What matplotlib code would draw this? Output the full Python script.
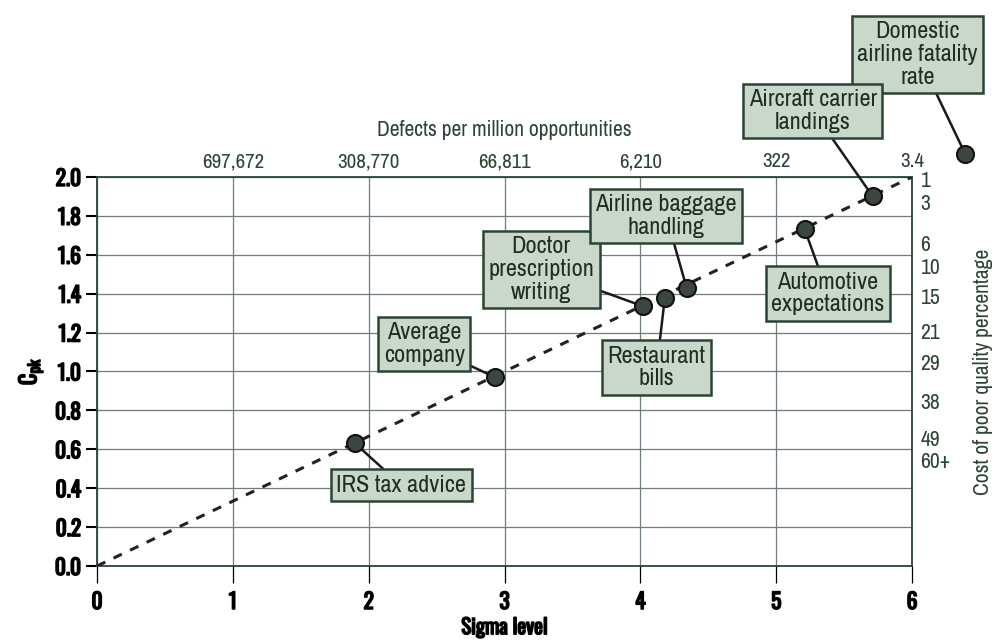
import matplotlib as mpl
import matplotlib.pyplot as plt
import matplotlib.patheffects as pe

mpl.rc('font', family=['Archivo Narrow', 'Roboto Condensed', 'DejaVu Sans'])
bold_family = ['Oswald', 'Roboto Condensed', 'DejaVu Sans']
heavy = [pe.withStroke(linewidth=1.1, foreground='black')]

# data
labels = ['IRS tax advice', 'Average\ncompany', 'Doctor\nprescription\nwriting',
          'Restaurant\nbills', 'Airline baggage\nhandling', 'Automotive\nexpectations',
          'Aircraft carrier\nlandings', 'Domestic\nairline fatality\nrate']
sigma = [1.90, 2.93, 4.02, 4.18, 4.34, 5.21, 5.71, 6.39]
cpk = [0.63, 0.97, 1.335, 1.38, 1.43, 1.73, 1.90, 2.12]

dpmo_pos = [1, 2, 3, 4, 5, 6]
dpmo_labels = ['697,672', '308,770', '66,811', '6,210', '322', '3.4']

copq_pos = [1.99, 1.87, 1.66, 1.54, 1.39, 1.21, 1.05, 0.85, 0.66, 0.545]
copq_labels = ['1', '3', '6', '10', '15', '21', '29', '38', '49', '60+']

# where the callout boxes sit (data coords)
box_pos = [(2.24, 0.415), (2.41, 1.14), (3.27, 1.525), (4.12, 1.02), (4.19, 1.80),
           (5.38, 1.40), (5.27, 2.34), (6.04, 2.63)]
# aircraft box sits in front of the domestic one
box_z = [6, 6, 6, 6, 6, 6, 6.5, 6.2]

green = '#2c4434'
grid = '#6f7f72'
fill = '#c9d8cb'

fig = plt.figure(figsize=(9.94, 6.41), dpi=100)
ax = fig.add_axes([0.0976, 0.117, 0.82, 0.607])
ax.set_xlim(0, 6)
ax.set_ylim(0, 2.0)

ax.set_xticks(range(7))
ax.set_yticks([i * 0.2 for i in range(11)])
ax.set_yticklabels(['%.1f' % (i * 0.2) for i in range(11)])
ax.grid(True, color=grid, lw=0.9)
for s in ax.spines.values():
    s.set_color(green)
    s.set_linewidth(1.3)
ax.tick_params(axis='both', colors='black', length=8, width=1.5, labelsize=15.5)
ax.tick_params(axis='x', pad=6, length=12, width=0.9)
for t in ax.get_xticklabels() + ax.get_yticklabels():
    t.set_family(bold_family)
    t.set_path_effects(heavy)
ax.set_xlabel('Sigma level', fontsize=15, family=bold_family, labelpad=3,
              path_effects=heavy)
ax.set_ylabel('C$_{\\mathregular{pk}}$', fontsize=16, family=bold_family, labelpad=7,
              path_effects=heavy)

ax.plot([0, 6], [0, 2.0], ls=(0, (3, 3)), color='#222222', lw=2.2, zorder=3)

top = ax.twiny()
top.set_xlim(ax.get_xlim())
top.set_xticks(dpmo_pos)
top.set_xticklabels(dpmo_labels)
top.tick_params(axis='x', length=0, labelsize=15, colors=green, pad=4)
top.set_xlabel('Defects per million opportunities', fontsize=15.5, color=green, labelpad=12)
for s in top.spines.values():
    s.set_visible(False)

right = ax.twinx()
right.set_ylim(ax.get_ylim())
right.set_yticks(copq_pos)
right.set_yticklabels(copq_labels)
right.tick_params(axis='y', length=0, labelsize=15.5, colors=green, pad=6)
right.set_ylabel('Cost of poor quality percentage', fontsize=15.5, color=green, labelpad=16)
for s in right.spines.values():
    s.set_visible(False)

for name, x, y, (bx, by), z in zip(labels, sigma, cpk, box_pos, box_z):
    ax.annotate(name, xy=(x, y), xytext=(bx, by), ha='center', va='center',
                fontsize=17.5, color='#1e2e23', linespacing=1.1, annotation_clip=False,
                fontweight='medium',
                bbox=dict(boxstyle='square,pad=0.22', fc=fill, ec=green, lw=1.8),
                arrowprops=dict(arrowstyle='-', color='#1a1a1a', lw=1.8,
                                shrinkA=0, shrinkB=0), zorder=z)
ax.scatter(sigma, cpk, s=150, color='#3a463e', edgecolor='#111111', lw=1.5,
           zorder=7, clip_on=False)

plt.savefig('out.png', dpi=100)
